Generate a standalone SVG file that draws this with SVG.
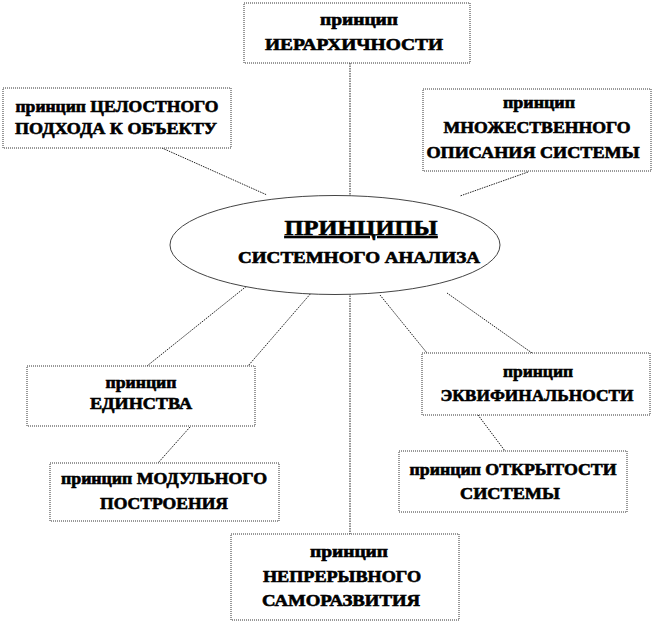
<svg xmlns="http://www.w3.org/2000/svg" width="654" height="622" viewBox="0 0 654 622">
<style>
.box{fill:#fff;stroke:#333;stroke-width:1;stroke-dasharray:1 1}
.ell{fill:#fff;stroke:#444;stroke-width:1}
.con{fill:none;stroke:#222;stroke-width:1;stroke-dasharray:1.5 1}
.t{font-family:'Liberation Serif','Times New Roman',serif;font-weight:bold;font-size:16px;fill:#000;stroke:#000;stroke-width:0.6;text-anchor:middle}
</style>
<rect width="654" height="622" fill="#fff"/>
<g id="connectors">
<line class="con" x1="350" y1="63" x2="350" y2="534"/>
<line class="con" x1="162" y1="148" x2="267" y2="195"/>
<line class="con" x1="528" y1="172" x2="460" y2="196"/>
<line class="con" x1="248" y1="285" x2="147" y2="366"/>
<line class="con" x1="312" y1="292" x2="248" y2="366"/>
<line class="con" x1="190" y1="427" x2="158" y2="463"/>
<line class="con" x1="380" y1="295" x2="427" y2="353"/>
<line class="con" x1="447" y1="293" x2="532" y2="353"/>
<line class="con" x1="478" y1="415" x2="505" y2="451"/>
</g>
<g id="center">
<ellipse class="ell" cx="335" cy="245" rx="165" ry="49.5"/>
<text class="t" x="361" y="235" textLength="153" lengthAdjust="spacingAndGlyphs" style="font-size:20px;text-decoration:underline">ПРИНЦИПЫ</text>
<text class="t" x="359" y="263" textLength="242" lengthAdjust="spacingAndGlyphs">СИСТЕМНОГО АНАЛИЗА</text>
</g>
<g id="hierarchy">
<rect class="box" x="244" y="3" width="226" height="60"/>
<text class="t" x="359" y="25" textLength="78" lengthAdjust="spacingAndGlyphs">принцип</text>
<text class="t" x="354" y="50" textLength="178" lengthAdjust="spacingAndGlyphs">ИЕРАРХИЧНОСТИ</text>
</g>
<g id="holistic">
<rect class="box" x="3" y="88" width="228" height="60"/>
<text class="t" x="117" y="112" textLength="203" lengthAdjust="spacingAndGlyphs">принцип ЦЕЛОСТНОГО</text>
<text class="t" x="116" y="134" textLength="202" lengthAdjust="spacingAndGlyphs">ПОДХОДА К ОБЪЕКТУ</text>
</g>
<g id="multiple">
<rect class="box" x="423" y="89" width="228" height="82"/>
<text class="t" x="539" y="108" textLength="72" lengthAdjust="spacingAndGlyphs">принцип</text>
<text class="t" x="537" y="133" textLength="187" lengthAdjust="spacingAndGlyphs">МНОЖЕСТВЕННОГО</text>
<text class="t" x="533" y="158" textLength="213" lengthAdjust="spacingAndGlyphs">ОПИСАНИЯ СИСТЕМЫ</text>
</g>
<g id="unity">
<rect class="box" x="27" y="366" width="228" height="60"/>
<text class="t" x="141" y="388" textLength="71" lengthAdjust="spacingAndGlyphs">принцип</text>
<text class="t" x="141" y="409" textLength="102" lengthAdjust="spacingAndGlyphs">ЕДИНСТВА</text>
</g>
<g id="modular">
<rect class="box" x="50" y="463" width="229" height="58"/>
<text class="t" x="164" y="484" textLength="206" lengthAdjust="spacingAndGlyphs">принцип МОДУЛЬНОГО</text>
<text class="t" x="164" y="509" textLength="128" lengthAdjust="spacingAndGlyphs">ПОСТРОЕНИЯ</text>
</g>
<g id="equifinality">
<rect class="box" x="422" y="353" width="228" height="62"/>
<text class="t" x="538" y="377" textLength="70" lengthAdjust="spacingAndGlyphs">принцип</text>
<text class="t" x="537" y="401" textLength="193" lengthAdjust="spacingAndGlyphs">ЭКВИФИНАЛЬНОСТИ</text>
</g>
<g id="openness">
<rect class="box" x="399" y="451" width="228" height="61"/>
<text class="t" x="513" y="475" textLength="207" lengthAdjust="spacingAndGlyphs">принцип ОТКРЫТОСТИ</text>
<text class="t" x="510" y="499" textLength="100" lengthAdjust="spacingAndGlyphs">СИСТЕМЫ</text>
</g>
<g id="selfdev">
<rect class="box" x="231" y="534" width="228" height="86"/>
<text class="t" x="349" y="557" textLength="78" lengthAdjust="spacingAndGlyphs">принцип</text>
<text class="t" x="342" y="582" textLength="158" lengthAdjust="spacingAndGlyphs">НЕПРЕРЫВНОГО</text>
<text class="t" x="341" y="606" textLength="158" lengthAdjust="spacingAndGlyphs">САМОРАЗВИТИЯ</text>
</g>
</svg>
